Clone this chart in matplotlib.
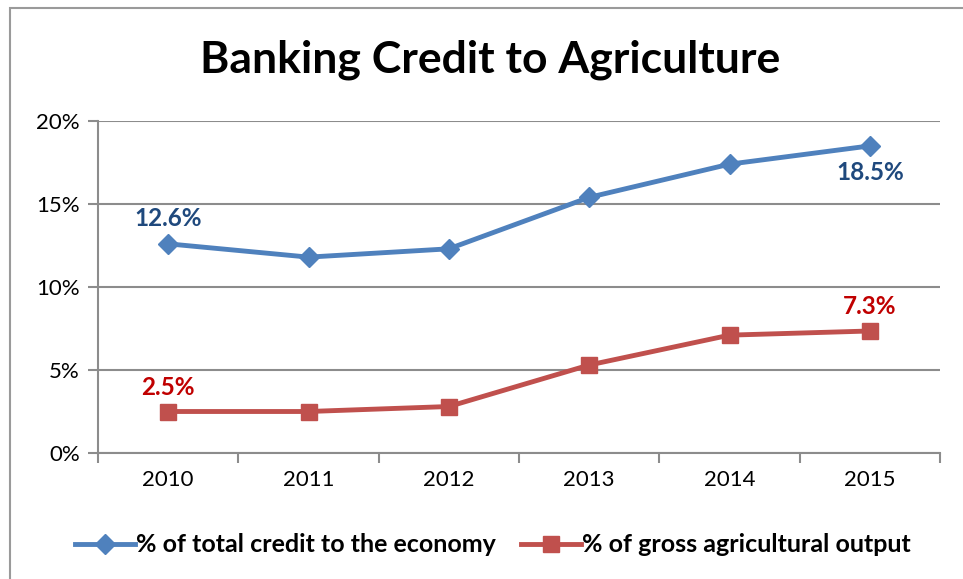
import matplotlib
matplotlib.use("Agg")
import matplotlib.pyplot as plt
from matplotlib.patches import Rectangle

years = ["2010", "2011", "2012", "2013", "2014", "2015"]
credit_share = [12.6, 11.8, 12.3, 15.4, 17.4, 18.5]
output_share = [2.5, 2.5, 2.8, 5.3, 7.1, 7.35]
credit_name = "% of total credit to the economy"
output_name = "% of gross agricultural output"
y_ticks = [0, 5, 10, 15, 20]

blue = "#4F81BD"
red = "#C0504D"
grid = "#8C8C8C"

plt.rcParams["font.family"] = ["Lato", "DejaVu Sans"]

fig = plt.figure(figsize=(9.63, 5.79), dpi=100)
ax = fig.add_axes([98 / 963, 1 - 453 / 579, (940 - 98) / 963, (453 - 121) / 579])

# outer chart frame (right/bottom edges fall outside the image)
fig.patches.append(Rectangle((10 / 963, -0.05), 1.1, 1 - 8 / 579 + 0.05,
                             transform=fig.transFigure, fill=False,
                             edgecolor="#9A9A9A", lw=1.5))

x = range(len(years))
ax.plot(x, credit_share, color=blue, lw=3.5, marker="D", ms=10,
        mfc=blue, mec=blue, label=credit_name, zorder=3)
ax.plot(x, output_share, color=red, lw=3.5, marker="s", ms=11,
        mfc=red, mec=red, label=output_name, zorder=3)

ax.set_xlim(-0.5, len(years) - 0.5)
ax.set_ylim(0, 20)
ax.set_yticks(y_ticks)
ax.set_yticklabels([f"{v}%" for v in y_ticks], fontsize=16)
ax.set_xticks(list(x))
ax.set_xticklabels(years, fontsize=16)
ax.set_xticks([i - 0.5 for i in range(len(years) + 1)], minor=True)

for s in ["top", "right"]:
    ax.spines[s].set_visible(False)
for s in ["left", "bottom"]:
    ax.spines[s].set_color(grid)
    ax.spines[s].set_linewidth(1.5)
ax.yaxis.grid(True, color=grid, lw=1.5)
ax.set_axisbelow(True)
ax.tick_params(axis="y", length=7, width=1.5, color=grid, pad=6)
ax.tick_params(axis="x", which="major", length=0, pad=12)
ax.tick_params(axis="x", which="minor", length=7, width=1.5, color=grid)

# data labels
lab = dict(fontsize=17.5, fontweight="bold", ha="center")
ax.annotate(f"{credit_share[0]}%", (0, credit_share[0]), xytext=(0, 10),
            textcoords="offset points", va="bottom", color="#1F497D", **lab)
ax.annotate(f"{credit_share[-1]}%", (5, credit_share[-1]), xytext=(0, -11),
            textcoords="offset points", va="top", color="#1F497D", **lab)
ax.annotate("2.5%", (0, output_share[0]), xytext=(0, 9),
            textcoords="offset points", va="bottom", color="#C00000", **lab)
ax.annotate("7.3%", (5, output_share[-1]), xytext=(0, 9),
            textcoords="offset points", va="bottom", color="#C00000", **lab)

fig.text(490 / 963, 1 - 60 / 579, "Banking Credit to Agriculture",
         fontsize=32, fontweight="bold", ha="center", va="center")

leg = fig.legend(loc="center", bbox_to_anchor=(493 / 963, 1 - 545 / 579),
                 ncol=2, frameon=False, handlelength=2.4, handletextpad=0.05,
                 columnspacing=1.0, prop={"size": 18, "weight": "bold"})

fig.savefig("out.png", dpi=100)
